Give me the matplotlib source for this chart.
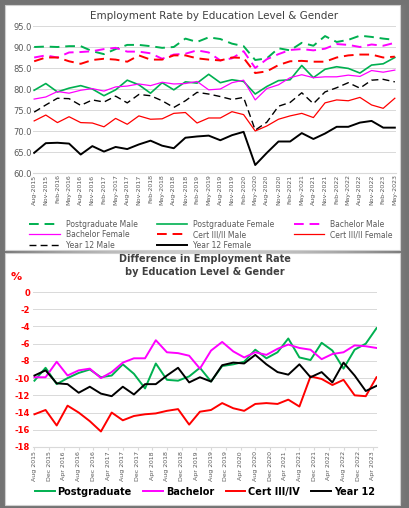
import matplotlib
matplotlib.use("Agg")
import matplotlib.pyplot as plt
from matplotlib.patches import Rectangle
import numpy as np
import pandas as pd

dates = pd.date_range("2015-08-01", "2023-05-01", freq="3MS")
labels = [d.strftime("%b-%Y") for d in dates]

pg_m = [90,90.1,90,90.2,90.2,89,88.3,89.5,90.5,90.5,90.2,89.8,90,92,91.2,92.3,91.9,90.8,90.2,86.9,87.3,89.7,89.2,91,90.3,92.6,91.2,91.7,92.7,92.4,92,91.7]
pg_f = [79.7,81.3,79.3,80.2,80.8,80,78.4,79.8,82.1,81,79,81.5,79.8,81.7,81.4,83.5,81.5,82.2,81.8,78.8,80.6,82,82.2,85.6,82.7,84.7,85.3,84.9,83.8,85.7,86,87.5]
ba_m = [87.5,88,87.5,88.7,88.8,89,89.5,89.8,88.9,88.9,88.5,87.2,88.2,88.4,89.2,88.7,86.8,87.3,89,85,87.1,88.3,89.3,89.5,89.2,89.6,90.7,90.5,90,90.6,90.3,91]
ba_f = [77.6,78.1,79.4,79,79.7,80.1,79.5,80.5,80.7,81.2,80.8,81.6,81.2,81.3,81.8,79.8,80,81.5,82.1,77.4,80.1,81,82.7,83.4,82.7,82.9,82.9,83.3,83,84.4,84,84.5]
ce_m = [86.6,87.5,87.5,86.6,86,86.9,87.2,87,86.5,88,87,87,88,88,87.3,87,86.8,87.5,87.4,83.8,84.2,85.7,86.6,86.7,86.5,86.5,87.5,88,88.2,88.2,87.5,87.7]
ce_f = [72.4,73.8,72,73.4,72,71.9,71,73,71.6,73.6,72.8,72.9,74.2,74.4,71.9,73.1,73.1,74.6,73.9,70,71.2,72.8,73.6,74.2,73.2,76.7,77.4,77.2,78,76.2,75.4,77.8]
y12_m = [74.5,76.2,77.8,77.7,76.1,77.4,76.9,78.3,76.7,78.7,78.4,77.2,75.6,77.2,79.2,78.8,78.2,77.5,78,70.2,72.1,75.9,76.8,79.1,76.5,79.3,80.3,81.5,80.2,82.1,82.3,81.7]
y12_f = [64.8,67.1,67.2,67,64.4,66.4,65.1,66.2,65.7,66.8,67.7,66.5,65.9,68.4,68.7,68.9,67.8,69,69.8,61.9,64.8,67.5,67.5,69.5,68.1,69.4,71,71,72,72.4,70.8,70.8]

GREEN, MAG, RED, BLK = "#00b050", "#ff00ff", "#ff0000", "#000000"

fig = plt.figure(figsize=(4.09, 5.08), dpi=100)
bg = fig.add_axes([0, 0, 1, 1])
yy, xx = np.mgrid[0:1:200j, 0:1:200j]
r = np.maximum(np.abs(xx - 0.5), np.abs(yy - 0.5)) * 2
bg.imshow(0.8 - 0.35 * r**2, cmap="gray", vmin=0, vmax=1, extent=[0, 1, 0, 1], aspect="auto")
bg.set_axis_off()
bg.add_patch(Rectangle((5/409, 1-250/508), 395/409, 245/508, transform=bg.transAxes, fc="white", ec="#cfcfcf", lw=0.8))
bg.add_patch(Rectangle((5/409, 1-505/508), 395/409, 252/508, transform=bg.transAxes, fc="white", ec="#cfcfcf", lw=0.8))

ax = fig.add_axes([33/409, 1-173/508, 363/409, 147/508])
x = np.arange(len(dates))
ax.plot(x, pg_m, color=GREEN, lw=1.4, ls=(0, (5, 3)), label="Postgraduate Male")
ax.plot(x, pg_f, color=GREEN, lw=1.2, label="Postgraduate Female")
ax.plot(x, ba_m, color=MAG, lw=1.4, ls=(0, (5, 3)), label="Bachelor Male")
ax.plot(x, ba_f, color=MAG, lw=0.9, label="Bachelor Female")
ax.plot(x, ce_m, color=RED, lw=1.4, ls=(0, (5, 3)), label="Cert III/II Male")
ax.plot(x, ce_f, color=RED, lw=0.9, label="Cert III/II Female")
ax.plot(x, y12_m, color=BLK, lw=1.0, ls=(0, (5, 3)), label="Year 12 Male")
ax.plot(x, y12_f, color=BLK, lw=1.4, label="Year 12 Female")
ax.set_ylim(60, 95)
ax.set_yticks(np.arange(60, 96, 5))
ax.set_yticklabels([f"{v:.1f}" for v in np.arange(60, 96, 5)], fontsize=6, color="#595959")
ax.set_xlim(-0.1, len(x) - 0.9)
ax.set_xticks(x)
ax.set_xticklabels(labels, rotation=90, fontsize=4.5, color="#595959")
ax.grid(axis="y", color="#d9d9d9", lw=0.7)
for s in ax.spines.values():
    s.set_visible(False)
ax.spines["bottom"].set_visible(True); ax.spines["bottom"].set_color("#d9d9d9")
ax.tick_params(length=0, pad=1)
ax.set_title("Employment Rate by Education Level & Gender", fontsize=7.5, color="#404040", pad=5)
h, l = ax.get_legend_handles_labels()
order = [0, 3, 6, 1, 4, 7, 2, 5]
ax.legend([h[i] for i in order], [l[i] for i in order], loc="upper left", bbox_to_anchor=(-0.03, -0.27),
          ncol=3, fontsize=5.5, frameon=False, handlelength=4, columnspacing=2.5, labelspacing=0.2,
          labelcolor="#595959")

ax2 = fig.add_axes([33/409, 1-447/508, 344/409, 155/508])
d_pg = np.array(pg_f) - np.array(pg_m)
d_ba = np.array(ba_f) - np.array(ba_m)
d_ce = np.array(ce_f) - np.array(ce_m)
d_y12 = np.array(y12_f) - np.array(y12_m)
ax2.plot(dates, d_pg, color=GREEN, lw=1.4, label="Postgraduate")
ax2.plot(dates, d_ba, color=MAG, lw=1.4, label="Bachelor")
ax2.plot(dates, d_ce, color=RED, lw=1.4, label="Cert III/IV")
ax2.plot(dates, d_y12, color=BLK, lw=1.4, label="Year 12")
ax2.set_ylim(-18, 0)
ax2.set_yticks(np.arange(-18, 1, 2))
ax2.set_yticklabels([str(v) for v in range(-18, 1, 2)], fontsize=6, color=RED, fontweight="bold")
ticks = pd.date_range("2015-08-01", "2023-04-01", freq="4MS")
ax2.set_xticks(ticks)
ax2.set_xticklabels([t.strftime("%b %Y") for t in ticks], rotation=90, fontsize=4.5, color="#595959")
ax2.set_xlim(pd.Timestamp("2015-07-20"), pd.Timestamp("2023-05-05"))
ax2.grid(axis="y", color="#d9d9d9", lw=0.7)
for s in ax2.spines.values():
    s.set_visible(False)
ax2.spines["bottom"].set_visible(True); ax2.spines["bottom"].set_color("#d9d9d9")
ax2.tick_params(axis="y", length=0, pad=2)
ax2.tick_params(axis="x", length=2, color="#d9d9d9", pad=1)
ax2.set_title("Difference in Employment Rate\nby Education Level & Gender", fontsize=7, color="#404040",
              fontweight="bold", pad=12, linespacing=1.4)
ax2.text(-0.05, 1.08, "%", transform=ax2.transAxes, color=RED, fontsize=8, fontweight="bold", ha="center")
ax2.legend(loc="upper center", bbox_to_anchor=(0.5, -0.2), ncol=4, frameon=False,
           handlelength=2, columnspacing=1.2, handletextpad=0.3, prop={"weight": "bold", "size": 7})

fig.savefig("out.png", dpi=100)
